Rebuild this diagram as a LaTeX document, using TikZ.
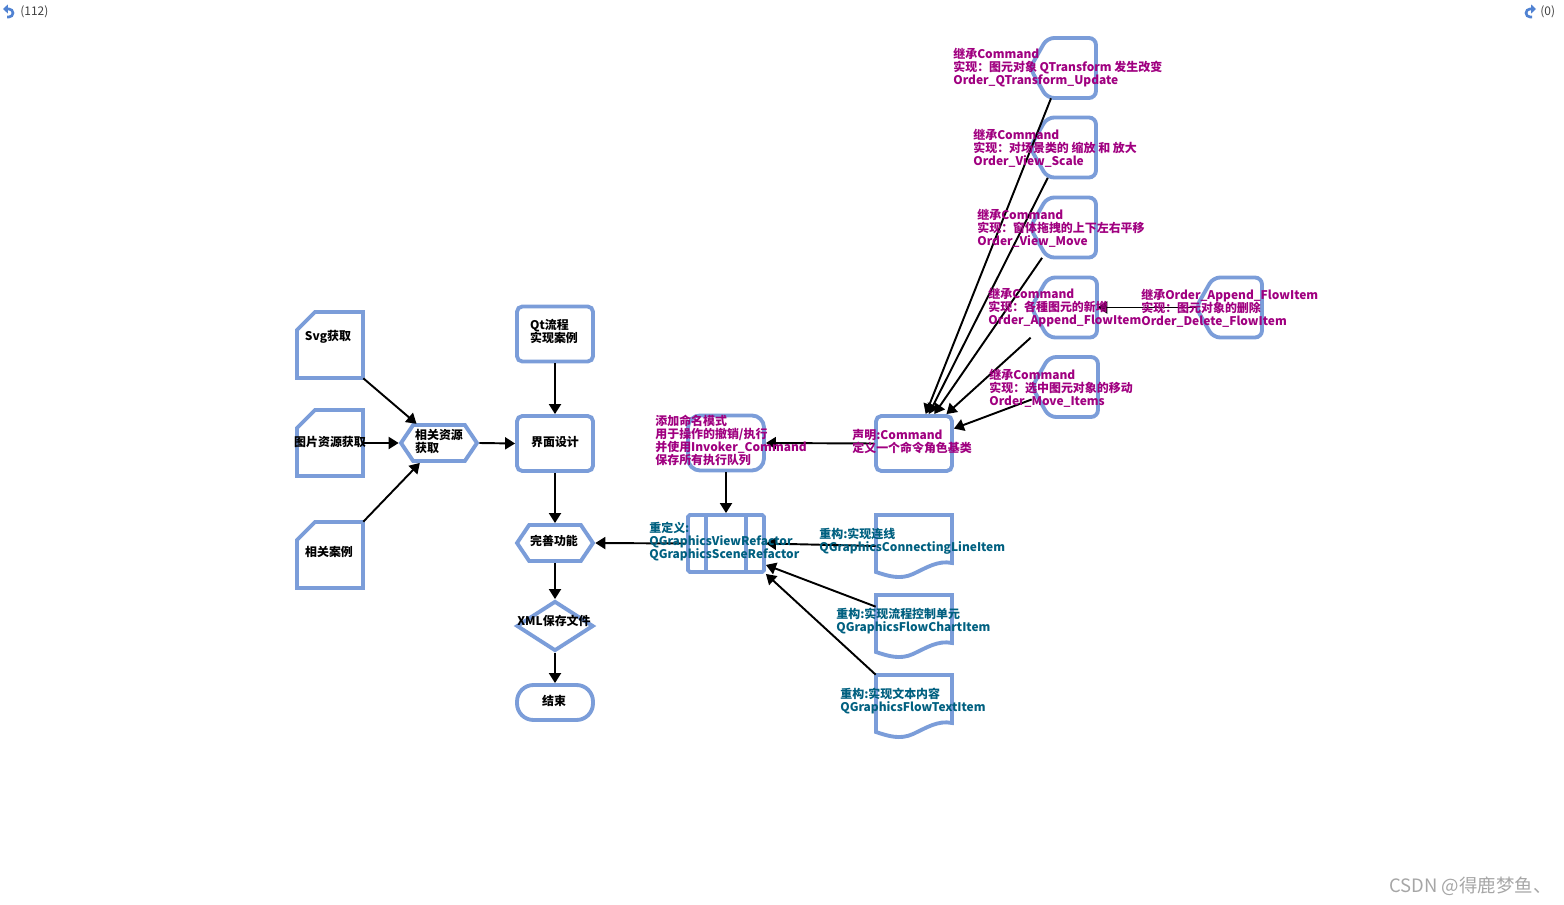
\documentclass[tikz,border=0pt]{standalone}
\usepackage{fontspec}
\setmainfont{Noto Sans CJK SC}
\usetikzlibrary{arrows.meta, shapes.geometric, shapes.symbols}
\definecolor{shapeblue}{RGB}{123,157,217}
\definecolor{notepink}{RGB}{160,0,128}
\definecolor{noteteal}{RGB}{0,96,128}
\definecolor{iconblue}{RGB}{80,130,210}

\newcommand{\cardnode}[2]{
  \node [holder, minimum width = 1.32cm, minimum height = 1.32cm] (#1) at (#2) {};
  \draw [shapebase, shift = {(#1.center)}]
    (-33,-15) -- (-15,-33) -- (33,-33) -- (33,33) -- (-33,33) -- cycle;
}
\newcommand{\displaynode}[2]{
  \node [holder, minimum width = 1.32cm, minimum height = 1.2cm] (#1) at (#2) {};
  \draw [shapebase, rounded corners = 4pt, shift = {(#1.center)}]
    (-33,0) -- (-16,-30) -- (33,-30) -- (33,30) -- (-16,30) -- cycle;
}
\newcommand{\docnode}[2]{
  \node [holder, minimum width = 1.52cm, minimum height = 1.24cm] (#1) at (#2) {};
  \draw [shapebase, shift = {(#1.center)}]
    (-38,-31) -- (38,-31) -- (38,17)
    .. controls (24,14) and (12,22) .. (-1,28)
    .. controls (-14,34) and (-26,30) .. (-38,26) -- cycle;
}

\begin{document}
\begin{tikzpicture}[
    x = 0.02cm, y = -0.02cm,
    every node/.style = {inner sep = 0pt},
    holder/.style = {rectangle, draw = none},
    shapebase/.style = {draw = shapeblue, line width = 2.2pt, fill = white},
    hexbox/.style = {
      shapebase, signal, signal to = west and east, signal pointer angle = 112,
      minimum width = 1.52cm, minimum height = 0.72cm
    },
    flowbox/.style = {
      shapebase, rectangle, rounded corners = 3pt, minimum width = 1.52cm, minimum height = 1.1cm
    },
    txt/.style = {font = \fontsize{6.8}{7.4}\selectfont\bfseries, align = left},
    note/.style = {txt, notepink, anchor = west},
    refnote/.style = {txt, noteteal, anchor = west},
    conn/.style = {-{Triangle[length = 0.2cm, width = 0.24cm]}, line width = 1.1pt}
  ]
  \useasboundingbox (0,0) rectangle (1564,905);

  \cardnode{svg}{330,345}
  \cardnode{img}{330,443}
  \cardnode{case}{330,555}
  \node [hexbox] (res) at (439,443) {};
  \node [flowbox] (qt) at (555,334) {};
  \node [flowbox] (ui) at (555,443.5) {};
  \node [hexbox] (perf) at (555,543) {};
  \node [shapebase, diamond, aspect = 1.54, minimum width = 1.54cm, minimum height = 1cm]
    (xml) at (555,626) {};
  \node [shapebase, rectangle, rounded corners = 0.33cm, minimum width = 1.52cm,
    minimum height = 0.7cm] (end) at (555,702.5) {};
  \node [flowbox, rounded corners = 0.24cm] (inv) at (726,443) {};
  \node [flowbox, rounded corners = 1pt, minimum height = 1.14cm] (vr) at (726,543.5) {};
  \draw [draw = shapeblue, line width = 2.2pt]
    ([xshift = 0.4cm] vr.north west) -- ([xshift = 0.4cm] vr.south west)
    ([xshift = -0.4cm] vr.north east) -- ([xshift = -0.4cm] vr.south east);
  \node [flowbox] (cmd) at (914,443.5) {};
  \docnode{doc1}{914,546}
  \docnode{doc2}{914,626}
  \docnode{doc3}{914,706}
  \displaynode{s1}{1063,68}
  \displaynode{s2}{1063,147.5}
  \displaynode{s3}{1063,227.5}
  \displaynode{s4}{1064,307.5}
  \displaynode{s5}{1229,307.5}
  \displaynode{s6}{1065,387}

  \draw [conn] (svg.south east) -- (res);
  \draw [conn] (img.east) -- (res.west);
  \draw [conn] (case.north east) -- (res);
  \draw [conn] (res.east) -- (ui.west);
  \draw [conn] (qt) -- (ui);
  \draw [conn] (ui) -- (perf);
  \draw [conn] (perf) -- (xml);
  \draw [conn] (xml) -- (end);
  \draw [conn] (cmd.west) -- (inv.east);
  \draw [conn] (inv.south) -- (vr.north);
  \draw [conn] (vr.west) -- (perf.east);
  \draw [conn] (doc1.west) -- (vr.east);
  \draw [conn] ([yshift = -0.24cm] doc2.north west) -- ([yshift = 0.18cm] vr.south east);
  \draw [conn] (doc3.north west) -- (vr.south east);
  \draw [conn] (s1) -- (cmd);
  \draw [conn] (s2) -- (cmd);
  \draw [conn] (s3) -- (cmd);
  \draw [conn] (s4) -- (cmd);
  \draw [conn] (s6) -- (cmd);
  \draw [conn] (s5.west) -- (s4.east);

  \node [txt] (svgtext) at (328,337) {Svg获取};
  \node [txt] (imgtext) at (330,442) {图片资源获取};
  \node [txt] (casetext) at (329,552) {相关案例};
  \node [txt] (restext) at (439,441.5) {相关资源\\获取};
  \node [txt] (qttext) at (554,331.5) {Qt流程\\实现案例};
  \node [txt] (uitext) at (555,442) {界面设计};
  \node [txt] (perftext) at (554,541) {完善功能};
  \node [txt] (xmltext) at (554,621) {XML保存文件};
  \node [txt] (endtext) at (554,701) {结束};
  \node [note] (invtext) at (655,440.5)
    {添加命名模式\\用于操作的撤销/执行\\并使用Invoker\_Command\\保存所有执行队列};
  \node [refnote] (vrtext) at (649,542)
    {重定义:\\QGraphicsViewRefactor\\QGraphicsSceneRefactor};
  \node [note] (cmdtext) at (852,441.5) {声明:Command\\定义一个命令角色基类};
  \node [refnote] (doc1text) at (819,541.5) {重构:实现连线\\QGraphicsConnectingLineItem};
  \node [refnote] (doc2text) at (836,621) {重构:实现流程控制单元\\QGraphicsFlowChartItem};
  \node [refnote] (doc3text) at (840,701) {重构:实现文本内容\\QGraphicsFlowTextItem};
  \node [note] (s1text) at (953,68)
    {继承Command\\实现：图元对象 QTransform 发生改变\\Order\_QTransform\_Update};
  \node [note] (s2text) at (973,148)
    {继承Command\\实现：对场景类的 缩放 和 放大\\Order\_View\_Scale};
  \node [note] (s3text) at (977,228)
    {继承Command\\实现：窗体拖拽的上下左右平移\\Order\_View\_Move};
  \node [note] (s4text) at (988,308)
    {继承Command\\实现：各種图元的新增\\Order\_Append\_FlowItem};
  \node [note] (s5text) at (1141,308)
    {继承Order\_Append\_FlowItem\\实现：图元对象的删除\\Order\_Delete\_FlowItem};
  \node [note] (s6text) at (989,388)
    {继承Command\\实现：选中图元对象的移动\\Order\_Move\_Items};

  \draw [iconblue, line width = 1.5pt, -{Triangle[length = 0.1cm, width = 0.18cm]}]
    (7,17) -- (9,17) arc [start angle = -90, end angle = 90, radius = 0.08cm] -- (3,9);
  \draw [iconblue, line width = 1.5pt, -{Triangle[length = 0.1cm, width = 0.18cm]}]
    (1532,17) -- (1530,17) arc [start angle = 270, end angle = 90, radius = 0.08cm] -- (1536,9);
  \node [font = \fontsize{6.8}{8}\selectfont, text = black!75, anchor = west] (undo) at (20,12) {(112)};
  \node [font = \fontsize{6.8}{8}\selectfont, text = black!75, anchor = west] (redo) at (1540,12) {(0)};
  \node [font = \fontsize{10.5}{12}\selectfont, text = black!35, anchor = east] (mark) at (1552,886)
    {CSDN @得鹿梦鱼、};
\end{tikzpicture}
\end{document}
